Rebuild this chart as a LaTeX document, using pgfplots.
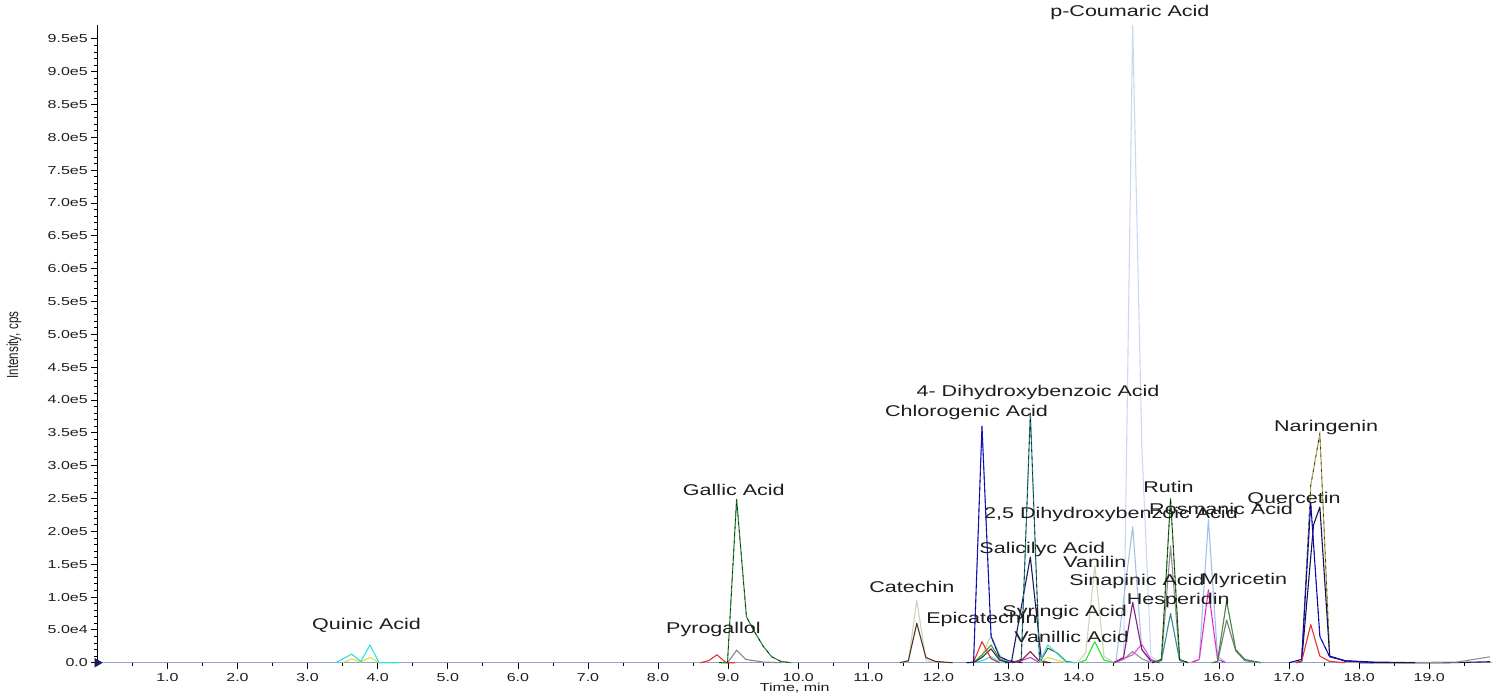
\documentclass[border=0pt]{standalone}
\usepackage{pgfplots}
\pgfplotsset{compat=1.18}
\usepackage{pgfplotstable}
\usepackage{graphicx}
\usepackage{fontspec}
\setmainfont{Liberation Sans}[FakeStretch=1.38]
\newfontfamily\plainfont{Liberation Sans}
\newcommand\tickfont{\fontsize{11.6}{13}\selectfont}
\newcommand\labfont{\fontsize{15.6}{18}\selectfont}

\definecolor{txt}{HTML}{1E1E1E}
\definecolor{basec}{HTML}{8FA3C8}
\definecolor{cyanc}{HTML}{30E0E0}
\definecolor{yellc}{HTML}{E0DC40}
\definecolor{redc}{HTML}{E83030}
\definecolor{grayp}{HTML}{8A7F90}
\definecolor{gallic}{HTML}{2A8A3A}
\definecolor{palec}{HTML}{C8D8B8}
\definecolor{brownc}{HTML}{5A3020}
\definecolor{blueC}{HTML}{1A1AD8}
\definecolor{palegreen}{HTML}{C0E0A0}
\definecolor{greenc}{HTML}{40A040}
\definecolor{darkc}{HTML}{4A3030}
\definecolor{tealc}{HTML}{2A7A7A}
\definecolor{navyc}{HTML}{1A1A60}
\definecolor{darkred}{HTML}{8A2040}
\definecolor{magsm}{HTML}{C040C0}
\definecolor{olivec}{HTML}{5A5A2A}
\definecolor{limec}{HTML}{30E030}
\definecolor{pcoum}{HTML}{C8DAF0}
\definecolor{dhb}{HTML}{A8C0E4}
\definecolor{purplec}{HTML}{802080}
\definecolor{magc}{HTML}{E050E0}
\definecolor{grayc}{HTML}{909090}
\definecolor{rutin}{HTML}{2A7A2A}
\definecolor{teal2}{HTML}{3A8A8A}
\definecolor{rosm}{HTML}{A0C0E8}
\definecolor{hesp}{HTML}{E020C8}
\definecolor{myric}{HTML}{3A8A3A}
\definecolor{gray2}{HTML}{7A7A7A}
\definecolor{querc}{HTML}{1414D0}
\definecolor{navy2}{HTML}{141450}
\definecolor{naring}{HTML}{B0A860}

\pgfplotstableread{
x y
0 0
19.9 0
}\tBase
\pgfplotstableread{
x y
18.0 0
19.3 0
19.87 1500
}\tEndNavy
\pgfplotstableread{
x y
18.5 0
19.4 1000
19.87 9000
}\tEndGray
\pgfplotstableread{
x y
3.4 0
3.63 13000
3.76 2000
3.89 27000
4.02 0
4.3 0
}\tQuinC
\pgfplotstableread{
x y
3.5 0
3.63 6000
3.76 1000
3.89 8000
4.02 0
}\tQuinY
\pgfplotstableread{
x y
8.6 0
8.72 3000
8.84 12000
8.97 0
9.1 0
}\tPyrR
\pgfplotstableread{
x y
8.9 0
8.99 0
9.12 19000
9.25 5000
9.5 1000
9.75 0
}\tPyrG
\pgfplotstableread{
x y
8.87 0
8.99 500
9.12 249000
9.26 70000
9.37 48000
9.5 25000
9.62 9000
9.75 2000
9.9 0
}\tGallic
\pgfplotstableread{
x y
11.45 0
11.57 2000
11.69 95000
11.82 4000
11.95 0
}\tCatP
\pgfplotstableread{
x y
11.45 0
11.57 3000
11.69 60000
11.82 8000
11.95 2000
12.2 0
}\tCatB
\pgfplotstableread{
x y
12.4 0
12.5 500
12.62 360000
12.75 40000
12.87 9000
13.0 3000
13.2 0
}\tChlor
\pgfplotstableread{
x y
12.4 0
12.5 1000
12.62 32000
12.75 6000
12.87 0
}\tEpiR
\pgfplotstableread{
x y
12.5 0
12.62 10000
12.75 42000
12.87 12000
13.0 0
}\tEpiP
\pgfplotstableread{
x y
12.5 0
12.62 12000
12.75 27000
12.87 6000
13.0 0
}\tEpiG
\pgfplotstableread{
x y
12.5 0
12.62 8000
12.75 21000
12.87 4000
13.0 0
}\tEpiD
\pgfplotstableread{
x y
12.5 0
12.62 3000
12.75 9000
12.87 1000
13.0 0
}\tEpiC
\pgfplotstableread{
x y
13.05 0
13.18 5000
13.31 380000
13.44 5000
13.56 0
}\tDHB
\pgfplotstableread{
x y
12.95 0
13.04 1000
13.31 161000
13.47 2000
13.6 0
}\tSal
\pgfplotstableread{
x y
13.05 0
13.18 3000
13.31 17000
13.44 2000
13.56 0
}\tSalR
\pgfplotstableread{
x y
13.1 0
13.31 8000
13.44 0
}\tSalM
\pgfplotstableread{
x y
13.44 0
13.56 27000
13.69 14000
13.82 1000
13.95 0
}\tSyrC
\pgfplotstableread{
x y
13.44 0
13.56 22000
13.69 15000
13.82 2000
13.95 0
}\tSyrO
\pgfplotstableread{
x y
13.44 0
13.56 8000
13.69 4000
13.82 0
}\tSyrY
\pgfplotstableread{
x y
14.0 0
14.1 4000
14.23 32000
14.36 4000
14.5 0
}\tVanG
\pgfplotstableread{
x y
13.98 0
14.1 15000
14.23 148000
14.36 10000
14.5 0
}\tVanP
\pgfplotstableread{
x y
14.5 0
14.64 5000
14.77 970000
14.9 330000
15.03 10000
15.16 0
}\tCoum
\pgfplotstableread{
x y
14.4 0
14.53 1000
14.77 207000
14.9 20000
15.03 0
}\tTwoFive
\pgfplotstableread{
x y
14.5 0
14.64 8000
14.77 92000
14.9 20000
15.03 3000
15.15 0
}\tSinP
\pgfplotstableread{
x y
14.5 0
14.64 6000
14.77 12000
14.9 28000
15.03 5000
15.15 0
}\tSinM
\pgfplotstableread{
x y
14.5 0
14.64 5000
14.77 17000
14.9 6000
15.03 0
}\tSinG
\pgfplotstableread{
x y
15.05 0
15.18 5000
15.31 250000
15.44 5000
15.56 0
}\tRutin
\pgfplotstableread{
x y
15.05 0
15.18 4000
15.31 178000
15.44 4000
15.56 0
}\tRutG
\pgfplotstableread{
x y
15.05 0
15.18 3000
15.31 75000
15.44 3000
15.56 0
}\tRutT
\pgfplotstableread{
x y
15.6 0
15.72 5000
15.85 218000
15.98 10000
16.1 0
}\tRosm
\pgfplotstableread{
x y
15.6 0
15.72 5000
15.85 111000
15.98 5000
16.1 0
}\tHesp
\pgfplotstableread{
x y
15.9 0
15.98 2000
16.11 94000
16.24 20000
16.37 5000
16.6 0
}\tMyr
\pgfplotstableread{
x y
15.9 0
15.98 1000
16.11 65000
16.24 18000
16.37 3000
16.6 0
}\tMyrG
\pgfplotstableread{
x y
17.0 0
17.18 5000
17.31 243000
17.44 40000
17.58 9000
17.8 3000
18.2 0
}\tQuer
\pgfplotstableread{
x y
17.1 0
17.18 2000
17.35 210000
17.44 237000
17.58 10000
17.8 3000
18.2 1000
18.8 0
}\tQuerN
\pgfplotstableread{
x y
17.1 0
17.18 3000
17.31 270000
17.44 349000
17.58 10000
17.8 2000
18.2 0
}\tNar
\pgfplotstableread{
x y
17.1 0
17.18 2000
17.31 58000
17.44 10000
17.58 2000
17.8 0
}\tNarR

\pgfplotsset{
  tr/.style={line width=1.1pt, line join=round, mark=none},
  ov/.style={black, line width=0.5pt, dash pattern=on 2.5pt off 5pt, mark=none},
}

\begin{document}
\begin{tikzpicture}
\useasboundingbox (0,0) rectangle (1501pt,694pt);
\begin{axis}[
  at={(97.3pt,31.3pt)}, anchor=south west,
  scale only axis, width=1395pt, height=637.7pt,
  xmin=0, xmax=19.9, ymin=0, ymax=971000,
  clip=false,
  axis lines*=left,
  x axis line style={draw=none},
  y axis line style={black, line width=1pt},
  tick align=outside,
  major tick length=6pt, minor tick length=3pt,
  every tick/.style={black, line width=0.8pt},
  xtick={1,2,...,19},
  xticklabels={1.0,2.0,3.0,4.0,5.0,6.0,7.0,8.0,9.0,10.0,11.0,12.0,13.0,14.0,15.0,16.0,17.0,18.0,19.0},
  minor xtick={0.5,1.5,...,19.5},
  ytick={0,50000,...,950000},
  yticklabels={0.0,5.0e4,1.0e5,1.5e5,2.0e5,2.5e5,3.0e5,3.5e5,4.0e5,4.5e5,5.0e5,5.5e5,6.0e5,6.5e5,7.0e5,7.5e5,8.0e5,8.5e5,9.0e5,9.5e5},
  minor y tick num=4,
  ticklabel style={font=\tickfont, text=txt},
  xticklabel style={yshift=-1.5pt},
  xlabel={Time, min},
  xlabel style={font=\tickfont, text=txt, at={(axis description cs:0.5,-0.0397)}, anchor=center},
  ylabel={\scalebox{1}[1.38]{\plainfont\fontsize{11.6}{13}\selectfont Intensity, cps}},
  ylabel style={text=txt, at={(axis description cs:-0.0597,0.498)}, anchor=center, rotate=0},
  scaled y ticks=false,
]
\addplot[tr, basec, line width=1.4pt] table {\tBase};
\addplot[tr, navyc] table {\tEndNavy};
\addplot[tr, grayc] table {\tEndGray};
% very light traces first
\addplot[tr, pcoum] table {\tCoum};
\addplot[tr, dhb] table {\tTwoFive};
\addplot[tr, rosm] table {\tRosm};
\addplot[tr, palec] table {\tCatP};
\addplot[tr, palec] table {\tVanP};
\addplot[tr, palegreen] table {\tEpiP};
% quinic
\addplot[tr, yellc] table {\tQuinY};
\addplot[tr, cyanc] table {\tQuinC};
% pyrogallol / gallic
\addplot[tr, redc] table {\tPyrR};
\addplot[tr, grayp] table {\tPyrG};
\addplot[tr, gallic] table {\tGallic};
\addplot[ov] table {\tGallic};
% catechin
\addplot[tr, brownc] table {\tCatB};
% epicatechin / chlorogenic
\addplot[tr, cyanc] table {\tEpiC};
\addplot[tr, greenc] table {\tEpiG};
\addplot[tr, darkc] table {\tEpiD};
\addplot[tr, redc] table {\tEpiR};
\addplot[tr, blueC] table {\tChlor};
\addplot[ov] table {\tChlor};
% 13.3 region
\addplot[tr, navyc] table {\tSal};
\addplot[tr, tealc] table {\tDHB};
\addplot[ov] table {\tDHB};
\addplot[tr, magsm] table {\tSalM};
\addplot[tr, darkred] table {\tSalR};
\addplot[tr, yellc] table {\tSyrY};
\addplot[tr, olivec] table {\tSyrO};
\addplot[tr, cyanc] table {\tSyrC};
\addplot[tr, limec] table {\tVanG};
% 14.8 region
\addplot[tr, grayc] table {\tSinG};
\addplot[tr, magc] table {\tSinM};
\addplot[tr, purplec] table {\tSinP};
% rutin
\addplot[tr, teal2] table {\tRutT};
\addplot[tr, grayc] table {\tRutG};
\addplot[tr, rutin] table {\tRutin};
\addplot[ov] table {\tRutin};
% hesperidin, myricetin
\addplot[tr, hesp] table {\tHesp};
\addplot[ov, hesp!40!white] table {\tHesp};
\addplot[tr, gray2] table {\tMyrG};
\addplot[tr, myric] table {\tMyr};
\addplot[ov, gray] table {\tMyr};
% quercetin / naringenin
\addplot[tr, naring] table {\tNar};
\addplot[ov] table {\tNar};
\addplot[tr, navy2] table {\tQuerN};
\addplot[tr, querc] table {\tQuer};
\addplot[ov] table {\tQuer};
\addplot[tr, redc] table {\tNarR};
% start marker
\addplot[only marks, mark=triangle*, mark size=5pt, mark options={rotate=-90, fill=navyc, draw=navyc}] coordinates {(0,0)};

% labels
\begin{scope}[every node/.style={font=\labfont, text=txt, inner sep=0pt, anchor=center}]
\node at (axis cs:3.84,57400) {Quinic Acid};
\node at (axis cs:8.79,50900) {Pyrogallol};
\node at (axis cs:9.08,263000) {Gallic Acid};
\node at (axis cs:11.62,115000) {Catechin};
\node at (axis cs:12.62,66000) {Epicatechin};
\node at (axis cs:12.40,381000) {Chlorogenic Acid};
\node at (axis cs:13.42,411000) {4- Dihydroxybenzoic Acid};
\node at (axis cs:14.46,225000) {2,5 Dihydroxybenzoic Acid};
\node at (axis cs:13.48,172700) {Salicilyc Acid};
\node at (axis cs:14.23,153000) {Vanilin};
\node at (axis cs:14.83,123700) {Sinapinic Acid};
\node at (axis cs:13.80,76800) {Syringic Acid};
\node at (axis cs:13.90,39600) {Vanillic Acid};
\node at (axis cs:14.73,990000) {p-Coumaric Acid};
\node at (axis cs:15.28,268000) {Rutin};
\node at (axis cs:16.03,233600) {Rosmanic Acid};
\node at (axis cs:15.42,94600) {Hesperidin};
\node at (axis cs:16.36,125700) {Myricetin};
\node at (axis cs:17.07,249000) {Quercetin};
\node at (axis cs:17.53,357500) {Naringenin};
\end{scope}
\end{axis}
\end{tikzpicture}
\end{document}
